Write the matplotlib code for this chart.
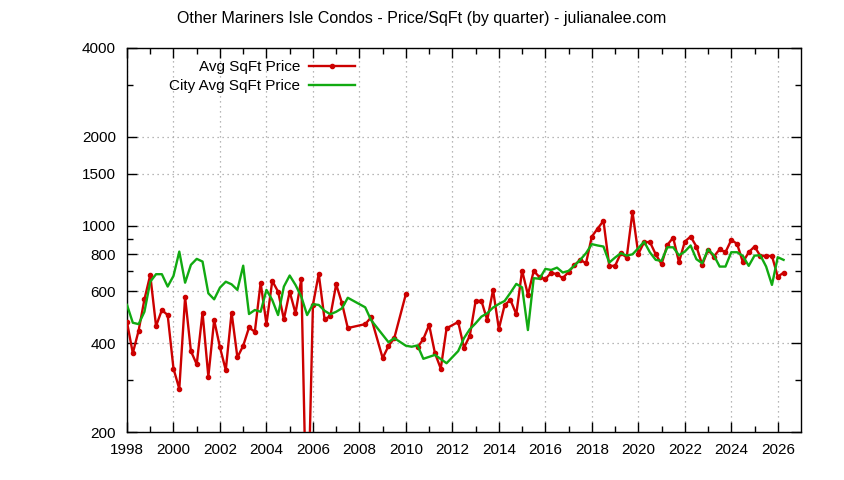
import numpy as np
import matplotlib
matplotlib.use("Agg")
import matplotlib.pyplot as plt
from matplotlib.ticker import FixedLocator, NullFormatter

plt.rcParams['font.family'] = ['Liberation Sans', 'DejaVu Sans']

title = "Other Mariners Isle Condos - Price/SqFt (by quarter) - julianalee.com"
label_red = "Avg SqFt Price"
label_green = "City Avg SqFt Price"

red_x = [1998.0, 1998.25, 1998.5, 1998.75, 1999.0, 1999.25, 1999.5, 1999.75,
         2000.0, 2000.25, 2000.5, 2000.75, 2001.0, 2001.25, 2001.5, 2001.75,
         2002.0, 2002.25, 2002.5, 2002.75, 2003.0, 2003.25, 2003.5, 2003.75,
         2004.0, 2004.25, 2004.5, 2004.75, 2005.0, 2005.25, 2005.5, 2005.75,
         2006.0, 2006.25, 2006.5, 2006.75, 2007.0, 2007.25, 2007.5,
         2008.25, 2008.5, 2009.0, 2009.25, 2009.5, 2010.0, 2010.25,
         2010.5, 2010.75, 2011.0, 2011.25, 2011.5, 2011.75,
         2012.25, 2012.5, 2012.75, 2013.0, 2013.25, 2013.5, 2013.75,
         2014.0, 2014.25, 2014.5, 2014.75, 2015.0, 2015.25, 2015.5, 2015.75,
         2016.0, 2016.25, 2016.5, 2016.75, 2017.0, 2017.25, 2017.5, 2017.75,
         2018.0, 2018.25, 2018.5, 2018.75, 2019.0, 2019.25, 2019.5, 2019.75,
         2020.0, 2020.25, 2020.5, 2020.75, 2021.0, 2021.25, 2021.5, 2021.75,
         2022.0, 2022.25, 2022.5, 2022.75, 2023.0, 2023.25, 2023.5, 2023.75,
         2024.0, 2024.25, 2024.5, 2024.75, 2025.0, 2025.25, 2025.5, 2025.75,
         2026.0, 2026.25]
red_y = [471, 370, 441, 563, 681, 457, 518, 498,
         328, 280, 572, 376, 339, 508, 308, 479,
         387, 324, 508, 358, 392, 452, 437, 641,
         464, 650, 598, 482, 598, 505, 659, 80,
         539, 687, 482, 494, 633, 546, 450,
         464, 489, 356, 391, 416, 587, np.nan,
         387, 413, 461, 370, 328, 449,
         472, 386, 424, 556, 556, 479, 606,
         447, 539, 560, 501, 705, 583, 703, 669,
         659, 693, 685, 664, 697, 735, 766, 746,
         919, 977, 1039, 731, 731, 807, 780, 1114,
         802, 880, 880, 800, 741, 861, 911, 752,
         883, 919, 850, 737, 828, 786, 832, 813,
         895, 868, 752, 813, 850, 790, 790, 790,
         672, 693]

green_x = [1998.0, 1998.25, 1998.5, 1998.75, 1999.0, 1999.25, 1999.5, 1999.75,
           2000.0, 2000.25, 2000.5, 2000.75, 2001.0, 2001.25, 2001.5, 2001.75,
           2002.0, 2002.25, 2002.5, 2002.75, 2003.0, 2003.25, 2003.5, 2003.75,
           2004.0, 2004.25, 2004.5, 2004.75, 2005.0, 2005.25, 2005.5, 2005.75,
           2006.0, 2006.25, 2006.5, 2006.75, 2007.0, 2007.25, 2007.5,
           2008.25, 2008.5, 2009.25, 2009.5, 2010.0, 2010.25, 2010.5, 2010.75,
           2011.25, 2011.75, 2012.25, 2012.5, 2012.75, 2013.0, 2013.25, 2013.5,
           2013.75, 2014.0, 2014.25, 2014.5, 2014.75, 2015.0, 2015.25, 2015.5,
           2015.75, 2016.0, 2016.25, 2016.5, 2016.75, 2017.0, 2017.25, 2017.5,
           2017.75, 2018.0, 2018.25, 2018.5, 2018.75, 2019.0, 2019.25, 2019.5,
           2019.75, 2020.0, 2020.25, 2020.5, 2020.75, 2021.0, 2021.25, 2021.5,
           2021.75, 2022.0, 2022.25, 2022.5, 2022.75, 2023.0, 2023.25, 2023.5,
           2023.75, 2024.0, 2024.25, 2024.5, 2024.75, 2025.0, 2025.25, 2025.5,
           2025.75, 2026.0, 2026.25]
green_y = [539, 469, 464, 511, 646, 685, 685, 622,
           676, 817, 641, 737, 772, 756, 590, 563,
           617, 646, 633, 606, 732, 502, 518, 511,
           606, 560, 498, 622, 678, 630, 575, 498,
           542, 539, 515, 501, 511, 525, 570,
           529, 479, 403, 416, 392, 389, 393, 354,
           365, 342, 376, 416, 446, 467, 492, 505,
           528, 543, 556, 593, 635, 618, 443, 664,
           661, 714, 708, 721, 694, 703, 732, 766,
           807, 866, 857, 850, 750, 780, 807, 792,
           800, 839, 883, 812, 766, 760, 845, 845,
           794, 817, 857, 770, 746, 832, 794, 727,
           727, 813, 813, 790, 731, 792, 794, 727,
           630, 782, 766]

y_major = [200, 400, 600, 800, 1000, 1500, 2000, 4000]
y_minor = [300, 700, 900, 3000]
x_major = list(range(1998, 2027, 2))
x_minor = list(range(1999, 2027, 2))

fig = plt.figure(figsize=(8.44, 4.80), dpi=100)
ax = fig.add_axes([127/844, 1 - 432/480, (801 - 127)/844, (432 - 48)/480])

ax.plot(red_x, red_y, color='#cc0000', lw=1.7, marker='o', ms=3,
        label=label_red, zorder=3)
ax.plot(green_x, green_y, color='#11aa11', lw=1.7, label=label_green, zorder=4)

ax.set_yscale('log')
ax.set_ylim(200, 4000)
ax.set_xlim(1998, 2027)
ax.yaxis.set_major_locator(FixedLocator(y_major))
ax.yaxis.set_minor_locator(FixedLocator(y_minor))
ax.set_yticklabels([str(v) for v in y_major])
ax.yaxis.set_minor_formatter(NullFormatter())
ax.xaxis.set_major_locator(FixedLocator(x_major))
ax.xaxis.set_minor_locator(FixedLocator(x_minor))
ax.set_xticklabels([str(v) for v in x_major])

ax.tick_params(which='both', direction='in', top=True, right=True,
               labelsize=11, colors='black', width=1)
ax.tick_params(which='major', length=7, pad=8)
ax.tick_params(which='minor', length=4)
for s in ax.spines.values():
    s.set_linewidth(1.0)

ax.grid(True, which='major', color='#a0a0a0', linestyle=(0, (1, 3)), lw=0.9)

fig.text(422/844, 1 - 19/480, title, ha='center', va='center', fontsize=11.5)

leg = ax.legend(loc='upper right', bbox_to_anchor=(355/844, 1 - 60/480),
                bbox_transform=fig.transFigure, frameon=False, markerfirst=False,
                fontsize=11, handlelength=3.0, handletextpad=0.6,
                labelspacing=0.35, borderpad=0, borderaxespad=0)

fig.savefig('out.png', dpi=100)
